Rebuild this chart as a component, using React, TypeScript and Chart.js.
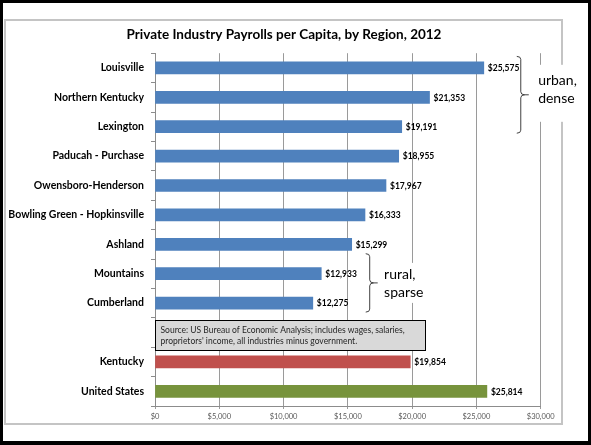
import React, { useEffect, useRef } from 'react';
import { Chart, registerables } from 'chart.js';

Chart.register(...registerables);

const TITLE = 'Private Industry Payrolls per Capita, by Region, 2012';

const regions = [
  'Louisville',
  'Northern Kentucky',
  'Lexington',
  'Paducah - Purchase',
  'Owensboro-Henderson',
  'Bowling Green - Hopkinsville',
  'Ashland',
  'Mountains',
  'Cumberland',
  '',
  'Kentucky',
  'United States',
];

const payrolls: (number | null)[] = [
  25575, 21353, 19191, 18955, 17967, 16333, 15299, 12933, 12275, null, 19854, 25814,
];

const BLUE = '#4F81BD';
const RED = '#C0504D';
const GREEN = '#77933C';
const barColors = [BLUE, BLUE, BLUE, BLUE, BLUE, BLUE, BLUE, BLUE, BLUE, BLUE, RED, GREEN];

const xMin = 0;
const xMax = 30000;
const xStep = 5000;

const sourceLines = [
  'Source: US Bureau of Economic Analysis; includes wages, salaries,',
  "proprietors' income, all industries minus government.",
];

const urbanLabel = ['urban,', 'dense'];
const ruralLabel = ['rural,', 'sparse'];

const FONT = 'Lato, "Open Sans", sans-serif';

const money = (v: number) => '$' + v.toLocaleString('en-US');

function brace(ctx: CanvasRenderingContext2D, xv: number, top: number, bottom: number, mid: number) {
  ctx.beginPath();
  ctx.moveTo(xv - 4, top);
  ctx.quadraticCurveTo(xv, top, xv, top + 3);
  ctx.lineTo(xv, mid - 3);
  ctx.quadraticCurveTo(xv, mid, xv + 4, mid);
  ctx.lineTo(xv + 8, mid);
  ctx.moveTo(xv + 4, mid);
  ctx.quadraticCurveTo(xv, mid, xv, mid + 3);
  ctx.lineTo(xv, bottom - 3);
  ctx.quadraticCurveTo(xv, bottom, xv - 4, bottom);
  ctx.stroke();
}

const overlayPlugin = {
  id: 'overlay',
  afterDatasetsDraw(chart: any) {
    const { ctx } = chart;
    const x = chart.scales.x;
    const y = chart.scales.y;
    const meta = chart.getDatasetMeta(0);
    ctx.save();

    // data labels
    ctx.font = `bold 8.5px ${FONT}`;
    ctx.fillStyle = '#000';
    ctx.textBaseline = 'middle';
    ctx.textAlign = 'left';
    meta.data.forEach((bar: any, i: number) => {
      const v = payrolls[i];
      if (v == null) return;
      ctx.fillText(money(v), bar.x + 4, bar.y + 0.5);
    });

    // source box
    const bl = x.getPixelForValue(0);
    const br = x.getPixelForValue(21000);
    const cy = y.getPixelForValue(9);
    const bt = Math.round(cy - 13) + 0.5;
    const bb = Math.round(cy + 17) + 0.5;
    ctx.fillStyle = '#D9D9D9';
    ctx.fillRect(bl, bt, br - bl, bb - bt);
    ctx.strokeStyle = '#000';
    ctx.lineWidth = 1;
    ctx.strokeRect(Math.round(bl) + 0.5, bt, Math.round(br - bl), bb - bt);
    ctx.font = `8.5px ${FONT}`;
    ctx.fillStyle = '#262626';
    ctx.textBaseline = 'middle';
    ctx.fillText(sourceLines[0], bl + 5.5, bt + 10);
    ctx.fillText(sourceLines[1], bl + 5.5, bt + 20.5);

    // urban bracket
    ctx.strokeStyle = '#404040';
    ctx.lineWidth = 1;
    const uTop = y.getPixelForValue(0) - 11.5;
    const uBot = y.getPixelForValue(2) + 6.5;
    const uMid = (uTop + uBot) / 2;
    brace(ctx, x.getPixelForValue(28450), uTop, uBot, uMid);
    const utx = x.getPixelForValue(29800);
    ctx.fillStyle = '#fff';
    ctx.fillRect(utx - 7, uMid - 30, 47, 57);
    ctx.fillStyle = '#000';
    ctx.font = `14px ${FONT}`;
    ctx.fillText(urbanLabel[0], utx, uMid - 14.5);
    ctx.fillText(urbanLabel[1], utx, uMid + 3.2);

    // rural bracket
    const rTop = y.getPixelForValue(7) - 20;
    const rBot = y.getPixelForValue(8) + 9;
    const rMid = (rTop + rBot) / 2;
    brace(ctx, x.getPixelForValue(16700), rTop, rBot, rMid);
    const rtx = x.getPixelForValue(17820);
    ctx.fillStyle = '#fff';
    ctx.fillRect(rtx - 6, rMid - 20, 48, 40);
    ctx.fillStyle = '#000';
    ctx.fillText(ruralLabel[0], rtx, rMid - 8);
    ctx.fillText(ruralLabel[1], rtx, rMid + 9.5);

    ctx.restore();
  },
};

export default function App() {
  const ref = useRef<HTMLCanvasElement>(null);

  useEffect(() => {
    if (!ref.current) return;
    const chart = new Chart(ref.current, {
      type: 'bar',
      data: {
        labels: regions,
        datasets: [
          {
            data: payrolls as any,
            backgroundColor: barColors,
            barThickness: 12,
            borderWidth: 0,
          },
        ],
      },
      options: {
        indexAxis: 'y',
        animation: false,
        responsive: false,
        devicePixelRatio: 1,
        layout: { padding: { left: 5, right: 28, top: 0, bottom: 20 } },
        plugins: {
          legend: { display: false },
          tooltip: { enabled: false },
          title: {
            display: true,
            text: TITLE,
            color: '#000',
            font: { family: FONT, size: 13.5, weight: 'bold' },
            padding: { top: 27, bottom: 10 },
          },
        },
        scales: {
          x: {
            type: 'linear',
            min: xMin,
            max: xMax,
            ticks: {
              stepSize: xStep,
              callback: (v: any) => money(Number(v)),
              color: '#595959',
              font: { family: FONT, size: 7.5 },
              padding: 3,
            },
            grid: { color: '#9A9A9A', lineWidth: 1, tickLength: 3, drawTicks: true },
            border: { display: true, color: '#8C8C8C' },
            afterFit: (s: any) => {
              s.height = 19;
            },
          },
          y: {
            type: 'category',
            ticks: {
              color: '#000',
              font: { family: FONT, size: 10.5, weight: 'bold' },
              padding: 7,
              autoSkip: false,
            },
            grid: { drawOnChartArea: false, drawTicks: true, tickLength: 4, color: '#8C8C8C' },
            border: { display: true, color: '#8C8C8C' },
            afterFit: (s: any) => {
              s.width = 150;
            },
          },
          yRight: {
            type: 'category',
            position: 'right',
            display: true,
            ticks: { display: false },
            grid: { display: false, drawTicks: false },
            border: { display: false },
            afterFit: (s: any) => {
              s.width = 22.3;
            },
          },
        },
      },
      plugins: [overlayPlugin],
    });
    return () => chart.destroy();
  }, []);

  return (
    <div
      style={{
        position: 'fixed',
        left: 0,
        top: 0,
        width: 591,
        height: 445,
        background: '#fff',
        overflow: 'hidden',
      }}
    >
      <div
        style={{
          position: 'absolute',
          left: 4,
          top: 19,
          width: 563 - 4,
          height: 425 - 19,
          boxSizing: 'border-box',
          border: '2px solid #C4C4C4',
        }}
      />
      <div
        style={{
          position: 'absolute',
          left: 0,
          top: 0,
          width: 591,
          height: 445,
          boxSizing: 'border-box',
          borderStyle: 'solid',
          borderColor: '#000',
          borderWidth: '3px 3px 4px 3px',
        }}
      />
      <canvas
        ref={ref}
        width={591}
        height={445}
        style={{ position: 'absolute', left: 0, top: 0, width: 591, height: 445 }}
      />
    </div>
  );
}
